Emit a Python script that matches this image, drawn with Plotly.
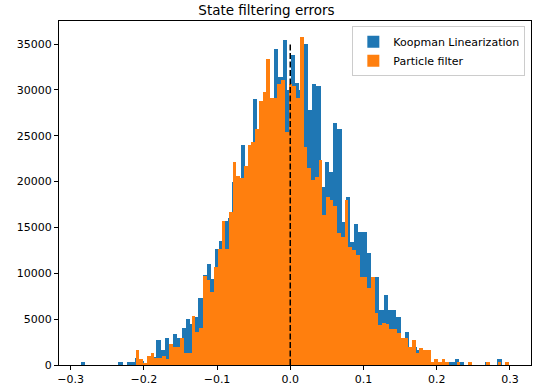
import numpy as np
import plotly.graph_objects as go

# Histogram of Koopman linearization errors (100 bins)
koopman_bin_start = -0.2864
koopman_bin_width = 0.00575
koopman_counts = [
    280, 0, 0, 0, 0, 0, 0, 0, 0, 280,
    0, 280, 280, 800, 400, 200, 280, 900, 2700, 1600,
    2990, 2000, 3330, 2990, 4000, 4990, 4500, 5280, 7310, 9800,
    11070, 9350, 12700, 13500, 15680, 16000, 20000, 19500, 24050, 21000,
    23500, 29000, 25000, 27000, 29000, 28000, 34450, 31430, 35440, 30000,
    33800, 30780, 30000, 35000, 27800, 30700, 30400, 19430, 22090, 21060,
    26410, 25690, 15600, 18340, 13420, 15430, 14520, 14520, 12270, 9000,
    9600, 5970, 7680, 5970, 5970, 5240, 2800, 3640, 1800, 2000,
    1680, 1200, 1000, 200, 300, 200, 300, 290, 290, 620,
    290, 0, 0, 0, 0, 0, 290, 0, 0, 620,
]

# Histogram of particle filter errors (100 bins)
particle_bin_start = -0.2111
particle_bin_width = 0.005097
particle_counts = [
    1650, 630, 260, 1020, 1280, 730, 730, 1020, 700, 2330,
    1970, 1970, 2990, 1300, 1300, 5300, 3600, 4040, 9700, 9320,
    7970, 10700, 12700, 15680, 12700, 16700, 22090, 20630, 20400, 21720,
    24050, 24300, 25720, 28780, 29800, 33360, 29070, 29070, 30700, 31070,
    25460, 30700, 30400, 29070, 35730, 23800, 21500, 20160, 20500, 22340,
    16340, 18340, 18000, 17350, 14400, 14000, 18050, 12880, 12500, 11970,
    9600, 9600, 8450, 9600, 5680, 4330, 4600, 4500, 3970, 3970,
    3490, 2990, 2990, 2000, 2700, 1310, 1900, 1680, 1680, 290,
    620, 290, 620, 290, 0, 0, 290, 0, 0, 290,
    0, 0, 0, 0, 290, 0, 0, 290, 0, 290,
]

x_tick_vals = [-0.3, -0.2, -0.1, 0.0, 0.1, 0.2, 0.3]
x_tick_text = ["\u22120.3", "\u22120.2", "\u22120.1", "0.0", "0.1", "0.2", "0.3"]
y_tick_vals = [0, 5000, 10000, 15000, 20000, 25000, 30000, 35000]
y_tick_text = ["0", "5000", "10000", "15000", "20000", "25000", "30000", "35000"]
zero_line_top = 35100

kx = koopman_bin_start + koopman_bin_width * (np.arange(len(koopman_counts)) + 0.5)
px = particle_bin_start + particle_bin_width * (np.arange(len(particle_counts)) + 0.5)

FONT = "DejaVu Sans"

fig = go.Figure()
fig.add_trace(go.Bar(
    x=kx, y=koopman_counts, width=koopman_bin_width,
    marker=dict(color="#1f77b4", line=dict(width=0)),
    name="Koopman Linearization",
))
fig.add_trace(go.Bar(
    x=px, y=particle_counts, width=particle_bin_width,
    marker=dict(color="#ff7f0e", line=dict(width=0)),
    name="Particle filter",
))
fig.add_shape(type="line", x0=0, x1=0, y0=0, y1=zero_line_top, xref="x", yref="y",
              line=dict(color="black", width=1.5, dash="6px,2.5px"))

fig.update_layout(
    width=533, height=389,
    margin=dict(l=59, r=2, t=21, b=24),
    barmode="overlay", bargap=0,
    plot_bgcolor="white", paper_bgcolor="white",
    font=dict(family=FONT, size=11, color="black"),
    title=dict(text="State filtering errors", x=0.5, xanchor="center",
               y=1 - 10.5 / 389, yanchor="middle",
               font=dict(family=FONT, size=13.5, color="black")),
    legend=dict(x=0.988, xanchor="right", y=0.985, yanchor="top",
                bgcolor="rgba(255,255,255,0.8)", bordercolor="#cccccc", borderwidth=1,
                font=dict(family=FONT, size=11, color="black"),
                itemwidth=30, tracegroupgap=0),
    showlegend=True,
)
fig.update_xaxes(
    range=[-0.3158, 0.3288], tickvals=x_tick_vals, ticktext=x_tick_text,
    showgrid=False, zeroline=False, showline=True, linecolor="black", linewidth=1,
    mirror=True, ticks="outside", ticklen=4, tickcolor="black",
    tickfont=dict(family=FONT, size=11),
)
fig.update_yaxes(
    range=[0, 37520], tickvals=y_tick_vals, ticktext=y_tick_text,
    showgrid=False, zeroline=False, showline=True, linecolor="black", linewidth=1,
    mirror=True, ticks="outside", ticklen=4, tickcolor="black",
    tickfont=dict(family=FONT, size=11),
)

fig.write_html(
    "out.html",
    config={"displayModeBar": False},
    post_script="document.body.style.margin='0';document.body.style.padding='0';",
)
